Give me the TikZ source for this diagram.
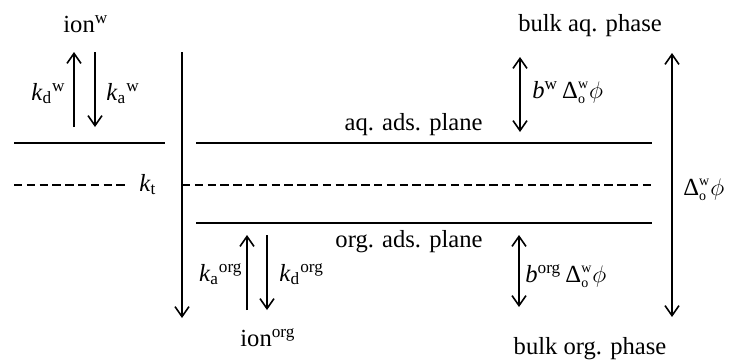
\documentclass[tikz,border=0pt]{standalone}
\usepackage{fontspec}
\setmainfont{Liberation Serif}
\usetikzlibrary{arrows.meta}
\newcommand{\dpot}{$\mbox{Δ}^{\mbox{\scriptsize w}}_{\mbox{\scriptsize o}}\phi$}

\begin{document}
\begin{tikzpicture}[x=0.5pt, y=-0.5pt,
  every node/.style={font=\fontsize{12.3}{14}\selectfont, inner sep=0pt},
  plane/.style={line width=1.2pt},
  flux/.style={line width=0.8pt, -{Straight Barb[length=5pt,width=7pt]}},
  pot/.style={line width=0.8pt, {Straight Barb[length=5pt,width=7pt]}-{Straight Barb[length=5pt,width=7pt]}}]
  \useasboundingbox (0,0) rectangle (732,360);

  % ion exchange at the aqueous side
  \node[anchor=base west] (ionw) at (63,32) {ion\textsuperscript{w}};
  \coordinate (wup0) at (74,127);  \coordinate (wup1) at (74,52);
  \coordinate (wdn0) at (95,52);   \coordinate (wdn1) at (95,127);
  \draw[flux] (wup0) -- (wup1);
  \draw[flux] (wdn0) -- (wdn1);
  \node[anchor=base east] (kdw) at (66,100) {\textit{k}\textsubscript{d}\textsuperscript{w}};
  \node[anchor=base west] (kaw) at (106,100) {\textit{k}\textsubscript{a}\textsuperscript{w}};

  % planes
  \coordinate (aqL0) at (14,143);   \coordinate (aqL1) at (165,143);
  \coordinate (aqR0) at (196,143);  \coordinate (aqR1) at (652,143);
  \coordinate (orR0) at (196,223);  \coordinate (orR1) at (652,223);
  \draw[plane] (aqL0) -- (aqL1);
  \draw[plane] (aqR0) -- (aqR1);
  \draw[plane] (orR0) -- (orR1);
  \node[anchor=base east] (aqplane) at (483,130) {aq. ads. plane};
  \node[anchor=base east] (orgplane) at (483,247) {org. ads. plane};

  % interface (dashed)
  \coordinate (itL0) at (14,185);   \coordinate (itL1) at (128,185);
  \coordinate (itR0) at (182,185);  \coordinate (itR1) at (652,185);
  \draw[line width=1pt, dash pattern=on 4.2pt off 2.2pt] (itL0) -- (itL1);
  \draw[line width=1pt, dash pattern=on 4.2pt off 2.2pt] (itR0) -- (itR1);
  \node[anchor=base west] (kt) at (139,191) {\textit{k}\textsubscript{t}};

  % transfer across the interface
  \coordinate (tr0) at (182,52);  \coordinate (tr1) at (182,318);
  \draw[flux] (tr0) -- (tr1);

  % ion exchange at the organic side
  \coordinate (oup0) at (247,310);  \coordinate (oup1) at (247,235);
  \coordinate (odn0) at (267,235);  \coordinate (odn1) at (267,310);
  \draw[flux] (oup0) -- (oup1);
  \draw[flux] (odn0) -- (odn1);
  \node[anchor=base east] (kaorg) at (243,281) {\textit{k}\textsubscript{a}\textsuperscript{org}};
  \node[anchor=base west] (kdorg) at (279,281) {\textit{k}\textsubscript{d}\textsuperscript{org}};
  \node[anchor=base west] (ionorg) at (240,346) {ion\textsuperscript{org}};

  % potential drops
  \node[anchor=base] (bulkaq) at (590,31) {bulk aq. phase};
  \node[anchor=base] (bulkorg) at (590,354) {bulk org. phase};
  \coordinate (bw0) at (520,57);   \coordinate (bw1) at (520,132);
  \coordinate (bo0) at (519,235);  \coordinate (bo1) at (519,307);
  \coordinate (dp0) at (672,53);   \coordinate (dp1) at (672,317);
  \draw[pot] (bw0) -- (bw1);
  \draw[pot] (bo0) -- (bo1);
  \draw[pot] (dp0) -- (dp1);
  \node[anchor=base west] (bwlab) at (532,98) {\textit{b}\textsuperscript{w}\,\dpot};
  \node[anchor=base west] (borglab) at (525,282) {\textit{b}\textsuperscript{org}\,\dpot};
  \node[anchor=base west] (dplab) at (683,195) {\dpot};
\end{tikzpicture}
\end{document}
